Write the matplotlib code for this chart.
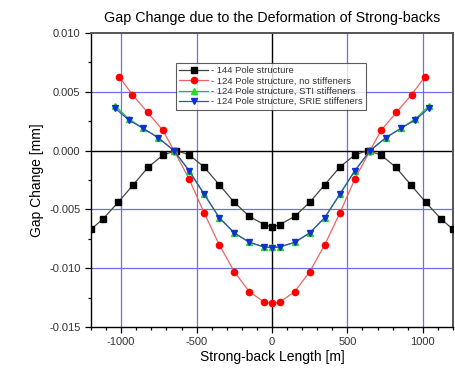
import matplotlib.pyplot as plt

plt.rcParams['font.family'] = ['Liberation Sans', 'DejaVu Sans']
plt.rcParams['axes.unicode_minus'] = False

# 144 Pole structure
x_144 = [-1200, -1120, -1020, -920, -820, -720, -635, -550, -450, -350, -250, -150, -50, 0,
         50, 150, 250, 350, 450, 550, 635, 720, 820, 920, 1020, 1120, 1200]
y_144 = [-0.0067, -0.0058, -0.0044, -0.0029, -0.0014, -0.00035, 0.0, -0.00035, -0.0014, -0.0029,
         -0.0044, -0.0056, -0.0063, -0.0065, -0.0063, -0.0056, -0.0044, -0.0029, -0.0014,
         -0.00035, 0.0, -0.00035, -0.0014, -0.0029, -0.0044, -0.0058, -0.0067]

# 124 Pole structure, no stiffeners
x_124 = [-1015, -925, -825, -725, -650, -550, -450, -350, -250, -150, -50, 0,
         50, 150, 250, 350, 450, 550, 650, 725, 825, 925, 1015]
y_none = [0.0063, 0.00475, 0.00325, 0.00175, 0.0, -0.0024, -0.0053, -0.0080, -0.0103, -0.0120,
          -0.0129, -0.0130, -0.0129, -0.0120, -0.0103, -0.0080, -0.0053, -0.0024, 0.0,
          0.00175, 0.00325, 0.00475, 0.0063]

# 124 Pole structure, STI / SRIE stiffeners
x_stf = [-1040, -950, -855, -755, -650, -550, -450, -350, -250, -150, -50, 0,
         50, 150, 250, 350, 450, 550, 650, 755, 855, 950, 1040]
y_sti = [0.0038, 0.0027, 0.0019, 0.0011, 0.0, -0.0017, -0.0037, -0.0057, -0.0070, -0.0078,
         -0.0082, -0.0082, -0.0082, -0.0078, -0.0070, -0.0057, -0.0037, -0.0017, 0.0,
         0.0011, 0.0019, 0.0027, 0.0038]
y_srie = [0.0036, 0.0026, 0.0019, 0.0011, 0.0, -0.0017, -0.0037, -0.0057, -0.0070, -0.0078,
          -0.0082, -0.00825, -0.0082, -0.0078, -0.0070, -0.0057, -0.0037, -0.0017, 0.0,
          0.0011, 0.0019, 0.0026, 0.0036]

fig = plt.figure(figsize=(4.56, 3.73), dpi=100)
ax = fig.add_axes([0.1996, 0.1233, 0.7938, 0.7882])

for v in [-1000, -500, 500, 1000]:
    ax.axvline(v, color='#6f6fe8', lw=0.9, zorder=1)
for v in [0.005, -0.005, -0.010]:
    ax.axhline(v, color='#6f6fe8', lw=0.9, zorder=1)
ax.axvline(0, color='black', lw=1.0, zorder=1)
ax.axhline(0, color='black', lw=1.0, zorder=1)

ax.plot(x_144, y_144, color='#444444', lw=0.9, marker='s', ms=4, mfc='black', mec='black',
        label='- 144 Pole structure', zorder=3)
ax.plot(x_124, y_none, color='#f06262', lw=0.9, marker='o', ms=4.5, mfc='red', mec='red',
        label='- 124 Pole structure, no stiffeners', zorder=3)
ax.plot(x_stf, y_sti, color='#22bb44', lw=0.9, marker='^', ms=4.5, mfc='#22dd22', mec='#22dd22',
        label='- 124 Pole structure, STI stiffeners', zorder=3)
ax.plot(x_stf, y_srie, color='#3355aa', lw=0.9, marker='v', ms=5, mfc='#1030d0', mec='#1030d0',
        label='- 124 Pole structure, SRIE stiffeners', zorder=4)

ax.set_xlim(-1200, 1200)
ax.set_ylim(-0.015, 0.010)
ax.set_xticks([-1000, -500, 0, 500, 1000])
ax.set_xticks(range(-1200, 1201, 100), minor=True)
ax.set_yticks([-0.015, -0.010, -0.005, 0.000, 0.005, 0.010])
ax.set_yticks([-0.0125, -0.0075, -0.0025, 0.0025, 0.0075], minor=True)
ax.set_yticklabels(['-0.015', '-0.010', '-0.005', '0.000', '0.005', '0.010'])
ax.tick_params(which='major', direction='out', length=4, width=0.9, labelsize=8, colors='black',
               labelcolor='#333333')
ax.tick_params(which='minor', direction='out', length=2.5, width=0.9)
for s in ['top', 'right']:
    ax.spines[s].set_color('#555555')
    ax.spines[s].set_linewidth(1.4)
for s in ['left', 'bottom']:
    ax.spines[s].set_linewidth(1.0)

ax.set_xlabel('Strong-back Length [m]', fontsize=10, labelpad=2)
ax.set_ylabel('Gap Change [mm]', fontsize=10, labelpad=4)
ax.set_title('Gap Change due to the Deformation of Strong-backs', fontsize=10.3, pad=8)

leg = ax.legend(loc='upper left', bbox_to_anchor=(0.222, 0.915), fontsize=6.8, frameon=True,
                fancybox=False, edgecolor='#333333', handlelength=3.0, borderpad=0.35,
                labelspacing=0.15, handletextpad=0.3)
leg.get_frame().set_linewidth(0.8)
for t in leg.get_texts():
    t.set_color('#333333')

fig.savefig('out.png', dpi=100)
